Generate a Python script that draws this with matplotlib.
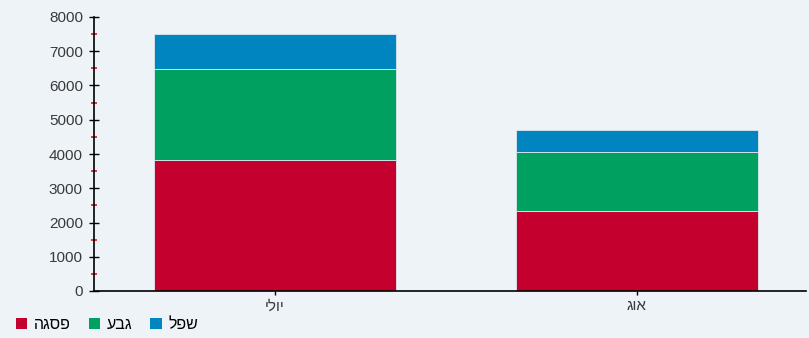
import numpy as np
import matplotlib.pyplot as plt
from matplotlib.patches import Patch
from matplotlib.ticker import MultipleLocator

plt.rcParams['font.family'] = ['Liberation Sans', 'DejaVu Sans']

# data
months = ['יולי', 'אוג']
pisga = [3825, 2336]
geva = [2657, 1722]
shefel = [1008, 642]

series_names = ['פסגה', 'גבע', 'שפל']
colors = ['#c4002f', '#00a060', '#0085c0']

def heb(s):
    # matplotlib has no bidi, reverse for visual order
    return s[::-1]

fig = plt.figure(figsize=(8.09, 3.38), dpi=100)
fig.patch.set_facecolor('#eef3f8')
ax = fig.add_axes([94/809, 1-291/338, 712/809, 274/338])
ax.set_facecolor('none')

x = np.arange(len(months))
w = 0.67
bottom = np.zeros(len(months))
for vals, c in zip([pisga, geva, shefel], colors):
    ax.bar(x, vals, w, bottom=bottom, color=c, edgecolor='#dfe8ee', linewidth=0.6)
    bottom += np.array(vals)

ax.set_xlim(-0.5, 1.467)
ax.set_ylim(0, 8000)
ax.yaxis.set_major_locator(MultipleLocator(1000))
ax.yaxis.set_minor_locator(MultipleLocator(500))
ax.set_xticks(x)
ax.set_xticklabels([heb(m) for m in months], fontsize=11, color='#3a3a3a')

for s in ['top', 'right']:
    ax.spines[s].set_visible(False)
ax.spines['left'].set_linewidth(1.2)
ax.spines['bottom'].set_linewidth(1.2)

ax.tick_params(axis='y', which='major', direction='inout', length=7, width=1,
               labelsize=11, labelcolor='#3a3a3a', pad=4.5)
ax.tick_params(axis='y', which='minor', direction='inout', length=4, width=1.3, color='#f0202a')
ax.tick_params(axis='x', which='major', direction='out', length=3, width=1, pad=3)

handles = [Patch(facecolor=c, edgecolor='none') for c in colors]
fig.legend(handles, [heb(n) for n in series_names], loc='lower left',
           bbox_to_anchor=(0.002, -0.025), ncol=3, frameon=False, fontsize=11.5,
           handlelength=0.7, handleheight=0.7, handletextpad=0.45, columnspacing=1.1)

fig.savefig('out.png', dpi=100, facecolor=fig.get_facecolor())
